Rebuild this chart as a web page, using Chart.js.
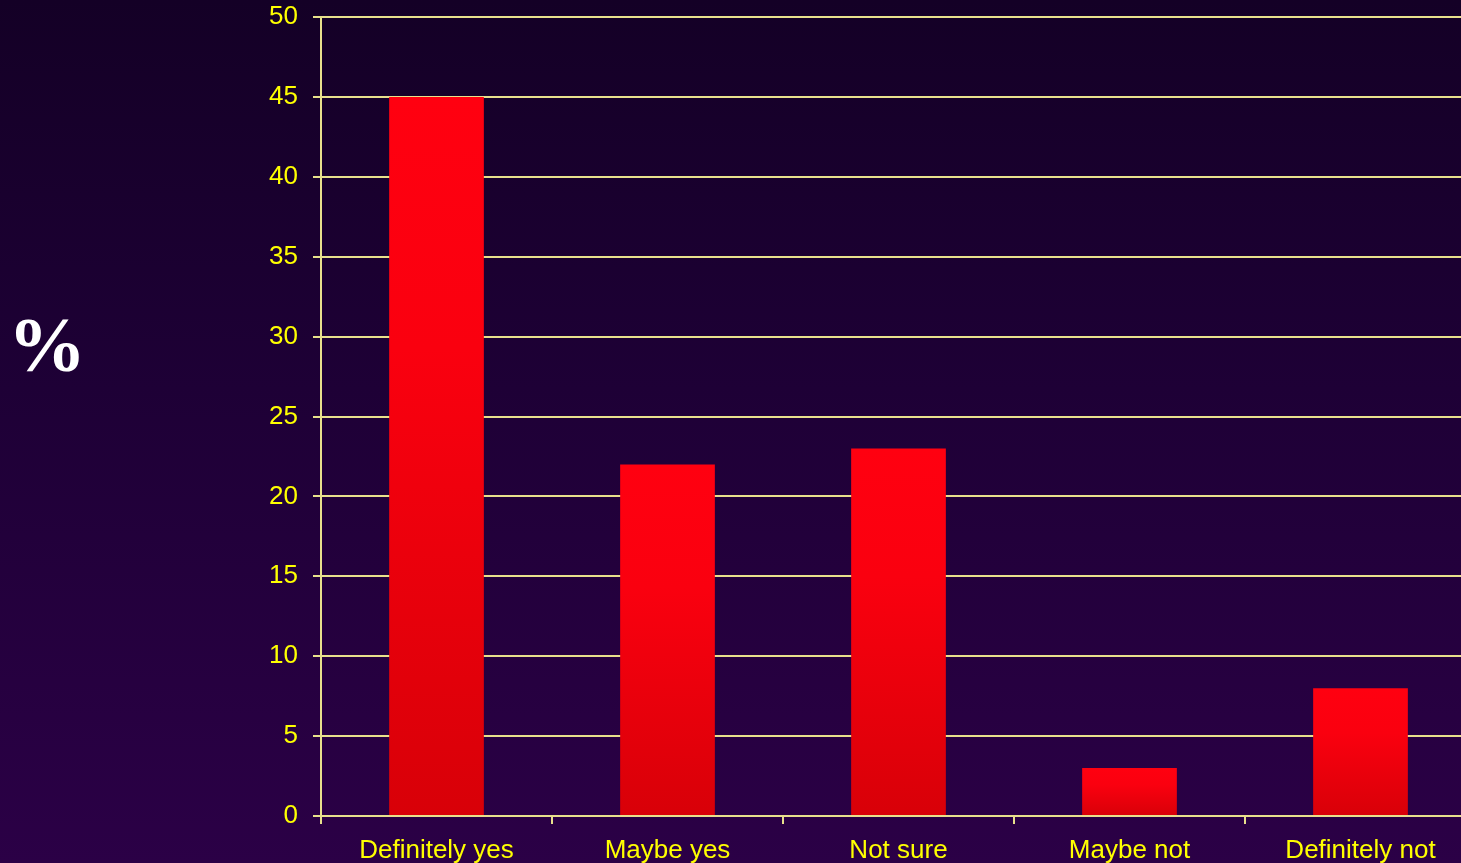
<!DOCTYPE html>
<html>
<head>
<meta charset="utf-8">
<script src="https://cdn.jsdelivr.net/npm/chart.js@4/dist/chart.umd.min.js"></script>
<style>
    html, body {
        margin: 0;
        padding: 0;
        width: 1461px;
        height: 863px;
        overflow: hidden;
        background: linear-gradient(to bottom, #140026 0%, #1e0036 45%, #2b0046 100%);
    }
    .wrap {
        position: relative;
        width: 1480px;
        height: 863px;
    }
</style>
</head>
<body>
<div class="wrap">
    <canvas id="answers" width="1480" height="863"></canvas>
</div>
<script>
// survey answers, share of respondents (%)
const answerLabels = ['Definitely yes', 'Maybe yes', 'Not sure', 'Maybe not', 'Definitely not'];
const answerShares = [45, 22, 23, 3, 8];
const yTicks = [0, 5, 10, 15, 20, 25, 30, 35, 40, 45, 50];

const yellow = '#ffff00';
const gridYellow = '#e8e08c';

// red bars fading a little darker toward the baseline
function barFill(context) {
    const chart = context.chart;
    const area = chart.chartArea;
    if (!area || !chart.scales.y) {
        return '#f00010';
    }
    const value = answerShares[context.dataIndex];
    const yScale = chart.scales.y;
    const top = yScale.getPixelForValue(value);
    const bottom = yScale.getPixelForValue(0);
    const g = chart.ctx.createLinearGradient(0, top, 0, bottom);
    g.addColorStop(0, '#ff0010');
    g.addColorStop(0.35, '#fa000f');
    g.addColorStop(1, '#d80008');
    return g;
}

// big serif percent sign to the left of the axis
const percentTitle = {
    id: 'percentTitle',
    afterDraw(chart) {
        const ctx = chart.ctx;
        ctx.save();
        ctx.fillStyle = '#ffffff';
        ctx.font = 'bold 78px "Liberation Serif", "Times New Roman", serif';
        ctx.textAlign = 'center';
        ctx.textBaseline = 'middle';
        ctx.fillText('%', 47, 351);
        ctx.restore();
    },
};

new Chart(document.getElementById('answers'), {
    type: 'bar',
    data: {
        labels: answerLabels,
        datasets: [
            {
                label: '%',
                data: answerShares,
                backgroundColor: barFill,
                borderWidth: 0,
                categoryPercentage: 1,
                barPercentage: 0.41,
            },
        ],
    },
    options: {
        responsive: false,
        animation: false,
        layout: {
            padding: { top: 17, right: 4, bottom: 0, left: 0 },
        },
        plugins: {
            legend: { display: false },
            tooltip: { enabled: false },
        },
        scales: {
            x: {
                offset: true,
                grid: {
                    offset: true,
                    drawOnChartArea: false,
                    drawTicks: true,
                    tickLength: 8,
                    color: gridYellow,
                    lineWidth: 2,
                },
                border: { color: gridYellow, width: 2 },
                ticks: {
                    color: yellow,
                    padding: 11,
                    maxRotation: 0,
                    font: { family: '"Liberation Sans", Arial, sans-serif', size: 26 },
                },
                afterFit(scale) {
                    scale.height = 47;
                    scale.paddingLeft = 0;
                    scale.paddingRight = 0;
                },
            },
            y: {
                min: 0,
                max: 50,
                afterBuildTicks(scale) {
                    scale.ticks = yTicks.map((v) => ({ value: v }));
                },
                grid: {
                    color: gridYellow,
                    lineWidth: 2,
                    tickLength: 8,
                },
                border: { color: gridYellow, width: 2 },
                ticks: {
                    color: yellow,
                    padding: 15,
                    font: { family: '"Liberation Sans", Arial, sans-serif', size: 26 },
                },
                afterFit(scale) {
                    scale.width = 321;
                    scale.paddingTop = 0;
                    scale.paddingBottom = 0;
                },
            },
        },
    },
    plugins: [percentTitle],
});
</script>
</body>
</html>
